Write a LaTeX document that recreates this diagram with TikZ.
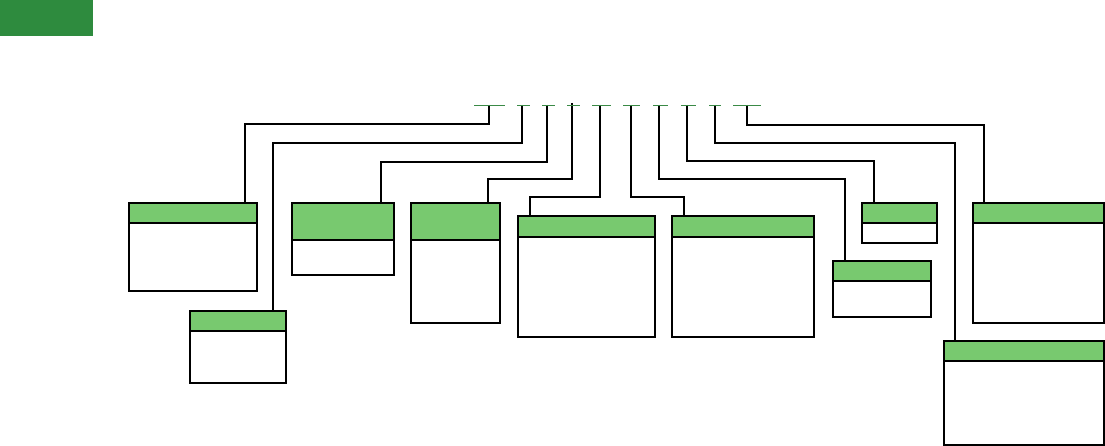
\documentclass[tikz,border=0pt]{standalone}
\usetikzlibrary{calc}
\definecolor{dkgreen}{RGB}{46,139,62}
\definecolor{hdrgreen}{RGB}{120,201,111}
\definecolor{seggreen}{RGB}{58,138,70}
\newcommand\umlbox[6]{%
  \fill[hdrgreen] (#2,#3) rectangle (#4,#6);
  \node[boxline, anchor=north west, minimum width={#4-#2}, minimum height={#5-#3}] (#1) at (#2,#3) {};
  \draw[boxline] (#1.west |- 0,#6) -- (#1.east |- 0,#6);
}
\begin{document}
\begin{tikzpicture}[x=1pt,y=-1pt,
  boxline/.style={draw=black, line width=1.1pt, inner sep=0pt, outer sep=0pt},
  wire/.style={draw=black, line width=1.1pt},
  seg/.style={draw=seggreen, line width=0.9pt}]
\useasboundingbox (0,0) rectangle (1105,446);
\node[fill=dkgreen, inner sep=0pt, minimum width=93pt, minimum height=36pt, anchor=north west] (tab) at (0,0) {};

% boxes: name, x1, y1, x2, y2, header bottom
\umlbox{A}{129}{203}{257}{291}{223}
\umlbox{B}{190}{311}{286}{383}{331}
\umlbox{C}{292}{203}{394}{275}{240}
\umlbox{D}{411}{203}{500}{323}{240}
\umlbox{E}{518}{216}{655}{337}{237}
\umlbox{F}{672}{216}{814}{337}{237}
\umlbox{G}{862}{203}{937}{243}{223}
\umlbox{H}{833}{261}{931}{317}{281}
\umlbox{I}{973}{203}{1104}{323}{223}
\umlbox{J}{944}{341}{1104}{445}{361}

% stem tops
\coordinate (s1) at (489,105);
\coordinate (s2) at (522,105);
\coordinate (s3) at (547,105);
\coordinate (s4) at (572,103);
\coordinate (s5) at (600,105);
\coordinate (s6) at (631,105);
\coordinate (s7) at (659,105);
\coordinate (s8) at (687,105);
\coordinate (s9) at (715,105);
\coordinate (s10) at (747,105);
% bends
\coordinate (b1) at (245,124);
\coordinate (b2) at (273,143);
\coordinate (b3) at (381,162);
\coordinate (b4) at (488,179);
\coordinate (b5) at (530,197);
\coordinate (b6) at (684,197);
\coordinate (b7) at (845,179);
\coordinate (b8) at (874,161);
\coordinate (b9) at (955,143);
\coordinate (b10) at (984,125);

\draw[wire] (s1) |- (b1) -- (b1 |- A.north);
\draw[wire] (s2) |- (b2) -- (b2 |- B.north);
\draw[wire] (s3) |- (b3) -- (b3 |- C.north);
\draw[wire] (s4) |- (b4) -- (b4 |- D.north);
\draw[wire] (s5) |- (b5) -- (b5 |- E.north);
\draw[wire] (s6) |- (b6) -- (b6 |- F.north);
\draw[wire] (s7) |- (b7) -- (b7 |- H.north);
\draw[wire] (s8) |- (b8) -- (b8 |- G.north);
\draw[wire] (s9) |- (b9) -- (b9 |- J.north);
\draw[wire] (s10) |- (b10) -- (b10 |- I.north);

% green segments
\draw[seg] (474,105) -- (505,105);
\draw[seg] (517,105) -- (530,105);
\draw[seg] (542,105) -- (555,105);
\draw[seg] (567,105) -- (580,105);
\draw[seg] (592,105) -- (611,105);
\draw[seg] (623,105) -- (640,105);
\draw[seg] (653,105) -- (668,105);
\draw[seg] (681,105) -- (696,105);
\draw[seg] (709,105) -- (721,105);
\draw[seg] (733,105) -- (761,105);
\end{tikzpicture}
\end{document}
